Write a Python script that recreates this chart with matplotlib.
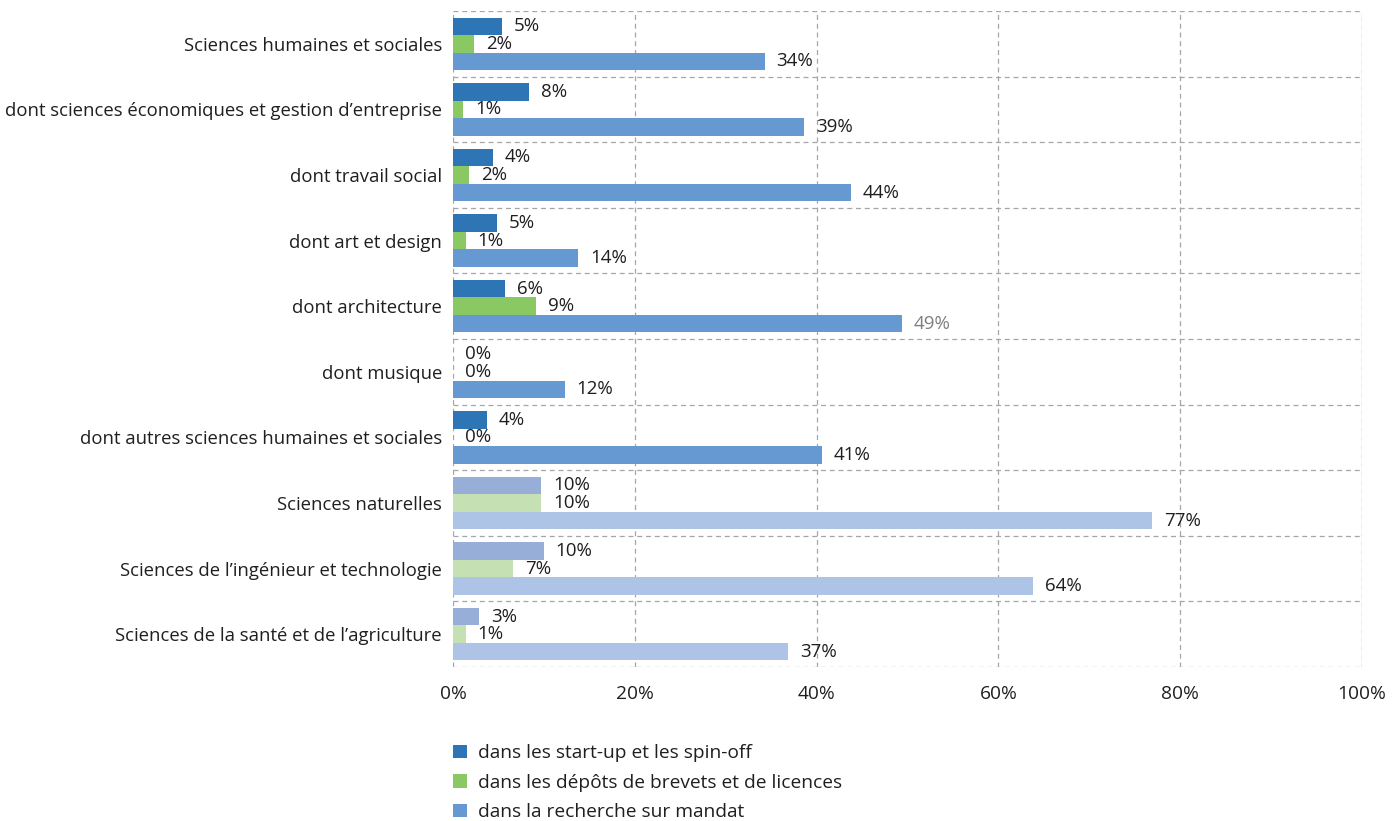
import matplotlib
matplotlib.use("Agg")
import matplotlib.pyplot as plt
from matplotlib.patches import Patch

plt.rcParams['font.family'] = ['Open Sans', 'DejaVu Sans']

categories = [
    "Sciences humaines et sociales",
    "dont sciences économiques et gestion d\u2019entreprise",
    "dont travail social",
    "dont art et design",
    "dont architecture",
    "dont musique",
    "dont autres sciences humaines et sociales",
    "Sciences naturelles",
    "Sciences de l\u2019ingénieur et technologie",
    "Sciences de la santé et de l\u2019agriculture",
]
startups = [5.4, 8.4, 4.4, 4.8, 5.7, 0.0, 3.7, 9.7, 10.0, 2.9]
brevets = [2.3, 1.1, 1.8, 1.4, 9.1, 0.0, 0.0, 9.7, 6.6, 1.4]
mandats = [34.3, 38.6, 43.8, 13.8, 49.4, 12.3, 40.6, 76.9, 63.8, 36.9]
series_names = [
    "dans les start-up et les spin-off",
    "dans les dépôts de brevets et de licences",
    "dans la recherche sur mandat",
]
xticks = [0, 20, 40, 60, 80, 100]

strong = ["#2E75B6", "#8AC864", "#6699D1"]
pale = ["#97AED8", "#C5E0B2", "#AEC4E6"]
n_strong = 7  # first groups use the strong palette

fig = plt.figure(figsize=(13.99, 8.21), dpi=100)
ax = fig.add_axes([0.3238, 0.1876, 0.6498, 0.799])

h = 0.267
offsets = [-h, 0.0, h]
grid_col = "#A6A6A6"

for s, vals in enumerate([startups, brevets, mandats]):
    ys = [i + offsets[s] for i in range(len(categories))]
    cols = [strong[s] if i < n_strong else pale[s] for i in range(len(categories))]
    ax.barh(ys, vals, height=h, color=cols, zorder=3)
    for i, v in enumerate(vals):
        tc = "#7F7F7F" if (s == 2 and i == 4) else "#1F1F1F"
        ax.text(v + 1.3, ys[i], f"{round(v):d}%", va="center", ha="left",
                fontsize=13.5, color=tc, zorder=4)

ax.set_xlim(0, 100)
ax.set_ylim(len(categories) - 0.5, -0.5)
ax.set_xticks(xticks)
ax.set_xticklabels([f"{t}%" for t in xticks], fontsize=13.8, color="#1F1F1F")
ax.set_yticks(range(len(categories)))
ax.set_yticklabels(categories, fontsize=13.3, color="#1F1F1F")
ax.tick_params(axis="both", length=0)
ax.tick_params(axis="x", pad=13)
ax.tick_params(axis="y", pad=8)

for b in [i - 0.5 for i in range(len(categories) + 1)]:
    ax.axhline(b, color=grid_col, lw=0.9, ls=(0, (4, 3)), zorder=1)
for t in xticks:
    ax.axvline(t, color=grid_col, lw=0.9, ls=(0, (4, 3)), zorder=1)
ax.axvline(100, color=grid_col, lw=0.9, ls=(2, (4, 3)), zorder=1)
for sp in ax.spines.values():
    sp.set_visible(False)

handles = [Patch(facecolor=c, edgecolor="none") for c in strong]
fig.legend(handles, series_names, loc="upper left",
           bbox_to_anchor=(0.3238, 0.0935), frameon=False, fontsize=13.8,
           borderpad=0, borderaxespad=0,
           handlelength=0.73, handleheight=0.73, handletextpad=0.57,
           labelspacing=0.6, labelcolor="#1F1F1F")

fig.savefig("out.png", dpi=100)
